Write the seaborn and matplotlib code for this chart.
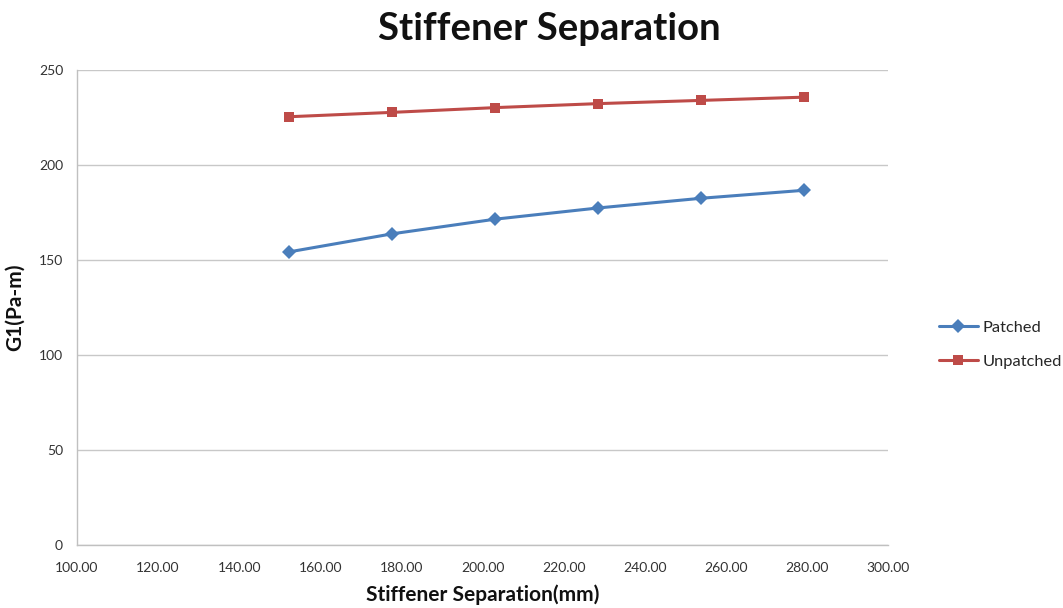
import matplotlib
matplotlib.use("Agg")
import matplotlib.pyplot as plt
import seaborn as sns
import pandas as pd

separation_mm = [152.4, 177.8, 203.2, 228.6, 254.0, 279.4]
patched = [154.3, 163.8, 171.5, 177.4, 182.5, 186.7]
unpatched = [225.4, 227.7, 230.2, 232.3, 234.0, 235.7]
series_names = ["Patched", "Unpatched"]
x_ticks = [100, 120, 140, 160, 180, 200, 220, 240, 260, 280, 300]
y_ticks = [0, 50, 100, 150, 200, 250]

df = pd.DataFrame({
    "Separation": separation_mm * 2,
    "G1": patched + unpatched,
    "Series": [series_names[0]] * len(patched) + [series_names[1]] * len(unpatched),
})

sns.set_theme(style="white")
plt.rcParams["font.family"] = ["Lato", "DejaVu Sans"]

fig = plt.figure(figsize=(10.63, 6.08), dpi=100)
ax = fig.add_axes([0.0724, 0.1036, 0.7630, 0.7813])

palette = {"Patched": "#4A7EBB", "Unpatched": "#BE4B48"}
markers = {"Patched": "D", "Unpatched": "s"}
sns.lineplot(data=df, x="Separation", y="G1", hue="Series", style="Series",
             palette=palette, markers=markers, dashes=False, linewidth=2.2,
             markersize=7, markeredgewidth=0, ax=ax)

ax.set_xlim(100, 300)
ax.set_ylim(0, 250)
ax.set_xticks(x_ticks)
ax.set_xticklabels([f"{v:.2f}" for v in x_ticks])
ax.set_yticks(y_ticks)
ax.yaxis.grid(True, color="#C8C8C8", linewidth=1)
ax.xaxis.grid(False)
for side in ["top", "right"]:
    ax.spines[side].set_visible(False)
for side in ["left", "bottom"]:
    ax.spines[side].set_color("#C0C0C0")
    ax.spines[side].set_linewidth(1)
ax.tick_params(axis="both", length=0, labelsize=10, colors="#333333")
ax.tick_params(axis="x", pad=12)
ax.tick_params(axis="y", pad=10)

ax.set_xlabel("Stiffener Separation(mm)", fontsize=15, fontweight="bold", labelpad=8, color="#111111")
ax.set_ylabel("G1(Pa-m)", fontsize=15, fontweight="bold", labelpad=10, color="#111111")
fig.suptitle("Stiffener Separation", x=0.517, y=0.98, fontsize=27.5, fontweight="bold", color="#111111")

handles, labels = ax.get_legend_handles_labels()
ax.legend(handles, labels, loc="center left", bbox_to_anchor=(0.877, 0.433),
          bbox_transform=fig.transFigure, frameon=False, borderpad=0, borderaxespad=0.4,
          fontsize=11.8, handlelength=2.4, handletextpad=0.25, labelspacing=1.2)

fig.savefig("out.png", dpi=100)
